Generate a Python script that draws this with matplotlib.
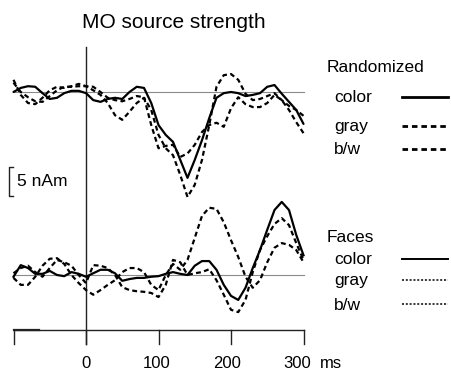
import matplotlib
matplotlib.use('Agg')
import matplotlib.pyplot as plt
from matplotlib.lines import Line2D
import numpy as np

plt.rcParams['font.family'] = ['Liberation Sans', 'DejaVu Sans']

# time axis (ms), one sample every 10 ms
t = np.arange(-100, 301, 10)

# MO source strength (nAm)
rand_color = [0, 0.7, 1.0, 0.9, -0.2, -1.2, -1.0, -0.2, 0.2, 0.2,
              -0.2, -1.4, -1.7, -1.2, -1.0, -1.2, 0, 0.9, 0.7, -1.9,
              -5.7, -7.4, -8.6, -11.7, -14.8, -11.7, -8.3, -4.5, -1.0, -0.2,
              0, -0.2, -0.7, -0.5, -0.2, 0.9, 1.2, -0.3, -1.7, -3.1, -5.5]
rand_gray = [1.6, 0, -0.9, -1.6, -1.7, -0.7, 0.3, 0.9, 0.9, 1.0,
             1.0, 0.9, 0, -1.0, -1.4, -1.6, -1.2, -0.7, -0.9, -5.7,
             -9.7, -9.3, -9.1, -11.2, -10.6, -9.1, -6.9, -5.7, -5.3, -6.0,
             -2.8, -0.9, -2.1, -2.6, -2.6, -1.9, -0.5, -1.4, -3.1, -5.2, -7.1]
rand_bw = [2.1, -0.5, -1.9, -2.1, -1.0, 0.3, 0.9, 0.7, 1.0, 1.4,
           1.0, 0.3, -0.5, -1.9, -4.0, -4.8, -3.4, -1.9, -1.0, -3.1,
           -7.4, -9.7, -10.9, -14.3, -18.1, -16.0, -11.7, -5.7, 0.9, 2.9,
           3.1, 2.1, -0.3, -1.4, -1.2, -0.7, -0.2, -1.4, -2.4, -3.1, -4.1]

face_color = [-0.3, 1.7, 1.2, 0.2, 0.2, 0.7, 0, -0.2, 0.5, 0.2,
              -0.3, 0.3, 0.9, 0.9, 0.3, -1.0, -0.7, -0.5, -0.5, -0.3,
              -0.2, 0.2, 0.5, 0.2, 0, 1.6, 2.4, 2.4, 0.9, -1.7,
              -3.6, -4.3, -2.2, 1.2, 4.3, 7.8, 11.2, 12.6, 11.2, 6.9, 3.4]
face_gray = [0.3, 1.2, 1.6, 0.5, -0.3, 1.2, 2.6, 2.2, 1.6, 0,
             -1.4, 1.7, 1.6, 1.2, 0, -2.1, -2.6, -2.8, -2.9, -3.1,
             -3.8, -1.7, 2.6, 2.2, 0, 0.3, 0.5, 1.0, -0.9, -3.4,
             -6.0, -6.4, -4.3, 0.5, 4.3, 6.7, 8.8, 9.8, 8.6, 5.5, 2.6]
face_bw = [-0.5, -1.7, -1.7, -0.3, 1.6, 2.8, 2.9, 1.9, 0, -1.4,
           -2.6, -3.4, -2.6, -1.7, -0.9, 0.5, 1.2, 1.2, 0.5, -1.7,
           -2.6, 0, 1.9, 0.9, 2.6, 6.4, 10.2, 11.6, 11.4, 9.1,
           6.0, 3.1, -0.3, -2.2, -0.9, 2.2, 4.7, 5.5, 5.2, 4.3, 2.2]

tick_vals = [-100, 0, 100, 200, 300]
tick_labels = ['', '0', '100', '200', '300']

# layout: pixel scale of the original figure
px_ms = 0.725      # px per ms
px_nam = 5.8       # px per nAm
x0_px, base_px = 86, 92
face_off = -(275 - base_px) / px_nam   # vertical offset of the Faces block

fig = plt.figure(figsize=(4.51, 3.72), dpi=100)
ax = fig.add_axes([0, 0, 1, 1])
ax.set_xlim(-x0_px / px_ms, (451 - x0_px) / px_ms)
ax.set_ylim((base_px - 372) / px_nam, base_px / px_nam)
ax.axis('off')

def py(p):
    return (base_px - p) / px_nam

def fx(p):
    return p / 451.0

def fy(p):
    return 1 - p / 372.0

dash = (2.2, 1.5)
lw = 1.6

# baselines
ax.plot([-100, 300], [0, 0], color='#8a8a8a', lw=0.8)
ax.plot([-100, 300], [face_off, face_off], color='#8a8a8a', lw=0.8)

# zero line and time axis
ax.plot([0, 0], [py(47), py(344)], color='#222222', lw=1.0)
axis_y = py(330)
ax.plot([-100, 300], [axis_y, axis_y], color='#222222', lw=1.0)
ax.plot([-100, -65], [axis_y, axis_y], color='#222222', lw=1.6)
for v, lab in zip(tick_vals, tick_labels):
    ax.plot([v, v], [axis_y, py(344)], color='#222222', lw=1.0)
for v, lab in zip(tick_vals, tick_labels):
    if lab:
        ax.text(v - 0.03 * v, py(363), lab, ha='center', va='center', fontsize=12)
ax.text(323 / 1.0, py(363), 'ms', ha='left', va='center', fontsize=12)

# curves
ax.plot(t, rand_color, color='black', lw=lw, solid_capstyle='round')
ax.plot(t, rand_gray, color='black', lw=lw, dashes=dash)
ax.plot(t, rand_bw, color='black', lw=lw, dashes=dash)
ax.plot(t, np.array(face_color) + face_off, color='black', lw=lw)
ax.plot(t, np.array(face_gray) + face_off, color='black', lw=lw, dashes=dash)
ax.plot(t, np.array(face_bw) + face_off, color='black', lw=lw, dashes=dash)

# 5 nAm scale bar
sb_top = py(167)
sb_x = -(x0_px - 9) / px_ms
sb_w = 5
ax.plot([sb_x + sb_w, sb_x, sb_x, sb_x + sb_w],
        [sb_top, sb_top, sb_top - 5, sb_top - 5], color='#222222', lw=1.0)
ax.text(-(x0_px - 17) / px_ms, sb_top - 2.5, '5 nAm', ha='left', va='center',
        fontsize=12.5)

# title
fig.text(fx(82), fy(23), 'MO source strength', ha='left', va='center', fontsize=15)

# legends
fig.text(fx(327), fy(67), 'Randomized', ha='left', va='center', fontsize=12.5)
fig.text(fx(327), fy(237), 'Faces', ha='left', va='center', fontsize=12.5)
rows = [(98, 'color', '-', 2.0), (127, 'gray', (0, (2.0, 1.4)), 2.0),
        (150, 'b/w', (0, (2.0, 1.4)), 2.0),
        (260, 'color', '-', 1.4), (281, 'gray', (0, (1.3, 1.2)), 1.1),
        (305, 'b/w', (0, (1.3, 1.2)), 1.1)]
for ypx, lab, ls, w in rows:
    fig.text(fx(334), fy(ypx), lab, ha='left', va='center', fontsize=12.5)
    fig.add_artist(Line2D([fx(402), fx(448)], [fy(ypx - 1), fy(ypx - 1)],
                          color='black', lw=w, linestyle=ls))

fig.savefig('out.png', dpi=100)
